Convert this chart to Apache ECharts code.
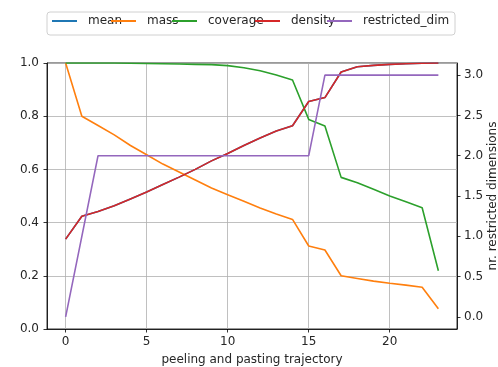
<!DOCTYPE html>
<html>
<head>
<meta charset="utf-8">
<script src="https://cdn.jsdelivr.net/npm/echarts@6/dist/echarts.min.js"></script>
<style>
  html, body { margin: 0; padding: 0; background: #fff; }
  #box1 { width: 498px; height: 367px; }
</style>
</head>
<body>
<div id="box1"></div>
<script>
// peeling trajectory steps 0..23
var steps = [0, 1, 2, 3, 4, 5, 6, 7, 8, 9, 10, 11, 12, 13, 14, 15, 16, 17, 18, 19, 20, 21, 22, 23];
var mass = [1.0, 0.80, 0.765, 0.73, 0.69, 0.655, 0.62, 0.59, 0.56, 0.53, 0.505, 0.48, 0.455, 0.432, 0.412,
  0.312, 0.297, 0.200, 0.19, 0.18, 0.172, 0.165, 0.157, 0.076];
var coverage = [1.0, 1.0, 1.0, 1.0, 0.999, 0.998, 0.997, 0.996, 0.995, 0.994, 0.99, 0.982, 0.971, 0.955, 0.936,
  0.788, 0.763, 0.57, 0.55, 0.525, 0.50, 0.478, 0.456, 0.219];
var density = [0.338, 0.424, 0.442, 0.463, 0.489, 0.515, 0.543, 0.571, 0.600, 0.632, 0.660, 0.690, 0.718, 0.744, 0.764,
  0.855, 0.870, 0.966, 0.986, 0.991, 0.995, 0.997, 0.999, 1.0];
var mean = density.slice();
var restrictedDim = [0, 1, 2, 2, 2, 2, 2, 2, 2, 2, 2, 2, 2, 2, 2, 2, 3, 3, 3, 3, 3, 3, 3, 3];
var xTicks = [0, 5, 10, 15, 20];
var dimTicks = [0, 0.5, 1.0, 1.5, 2.0, 2.5, 3.0];

var names = ['mean', 'mass', 'coverage', 'density', 'restricted_dim'];
var colors = ['#1f77b4', '#ff7f0e', '#2ca02c', '#d62728', '#9467bd'];
var legendLeft = [52, 111, 172, 255, 327];

function pairs(ys) {
  return steps.map(function (x, i) { return [x, ys[i]]; });
}

var font = 'DejaVu Sans';
var txt = '#262626';
var fs = 12;

var myChart = echarts.init(document.getElementById('box1'), null, { renderer: 'canvas' });

var series = [mean, mass, coverage, density, restrictedDim].map(function (ys, i) {
  return {
    name: names[i],
    type: 'line',
    yAxisIndex: i == 4 ? 1 : 0,
    data: pairs(ys),
    showSymbol: false,
    symbol: 'none',
    lineStyle: { width: 1.6, color: colors[i] },
    itemStyle: { color: colors[i] },
    z: 2 + i,
    animation: false
  };
});

var legends = names.map(function (n, i) {
  return {
    data: [n],
    left: legendLeft[i],
    top: 15,
    icon: 'rect',
    itemWidth: 25,
    itemHeight: 2,
    padding: 0,
    textStyle: { fontFamily: font, fontSize: fs, color: txt, padding: [0, 0, 0, 6] },
    selectedMode: false
  };
});

var option = {
  animation: false,
  color: colors,
  textStyle: { fontFamily: font },
  legend: legends,
  graphic: [{
    type: 'rect',
    shape: { x: 47, y: 12, width: 408, height: 23, r: 3 },
    style: { fill: 'rgba(255,255,255,0.8)', stroke: '#d0d0d0', lineWidth: 1 },
    z: -1
  }],
  grid: {
    left: 47, right: 41, top: 63, bottom: 38,
    containLabel: false,
    outerBoundsMode: 'none',
    show: true, borderColor: '#000', borderWidth: 0.8, backgroundColor: 'transparent'
  },
  xAxis: {
    type: 'value',
    min: -1.15,
    max: 24.15,
    name: 'peeling and pasting trajectory',
    nameLocation: 'middle',
    nameGap: 25,
    nameMoveOverlap: false,
    nameTextStyle: { fontFamily: font, fontSize: fs, color: txt },
    axisLine: { show: true, onZero: false, lineStyle: { color: '#000', width: 0.8 } },
    axisTick: { show: true, length: 3.5, customValues: xTicks, lineStyle: { color: '#000', width: 0.8 } },
    axisLabel: { customValues: xTicks, fontFamily: font, fontSize: fs, color: txt, margin: 7 },
    splitLine: { show: true, lineStyle: { color: '#b0b0b0', width: 0.8 } }
  },
  yAxis: [{
    type: 'value',
    min: 0,
    max: 1,
    interval: 0.2,
    axisLine: { show: true, onZero: false, lineStyle: { color: '#000', width: 0.8 } },
    axisTick: { show: true, length: 3.5, lineStyle: { color: '#000', width: 0.8 } },
    axisLabel: { fontFamily: font, fontSize: fs, color: txt, margin: 8, formatter: function (v) { return v.toFixed(1); } },
    splitLine: { show: true, lineStyle: { color: '#b0b0b0', width: 0.8 } }
  }, {
    type: 'value',
    position: 'right',
    min: -0.15,
    max: 3.15,
    name: 'nr. restricted dimensions',
    nameLocation: 'middle',
    nameRotate: 90,
    nameGap: 30,
    nameMoveOverlap: false,
    nameTextStyle: { fontFamily: font, fontSize: fs, color: txt },
    axisLine: { show: true, onZero: false, lineStyle: { color: '#000', width: 0.8 } },
    axisTick: { show: true, length: 3.5, customValues: dimTicks, lineStyle: { color: '#000', width: 0.8 } },
    axisLabel: { customValues: dimTicks, fontFamily: font, fontSize: fs, color: txt, margin: 7, formatter: function (v) { return v.toFixed(1); } },
    splitLine: { show: false }
  }],
  series: series
};

myChart.setOption(option);
</script>
</body>
</html>
